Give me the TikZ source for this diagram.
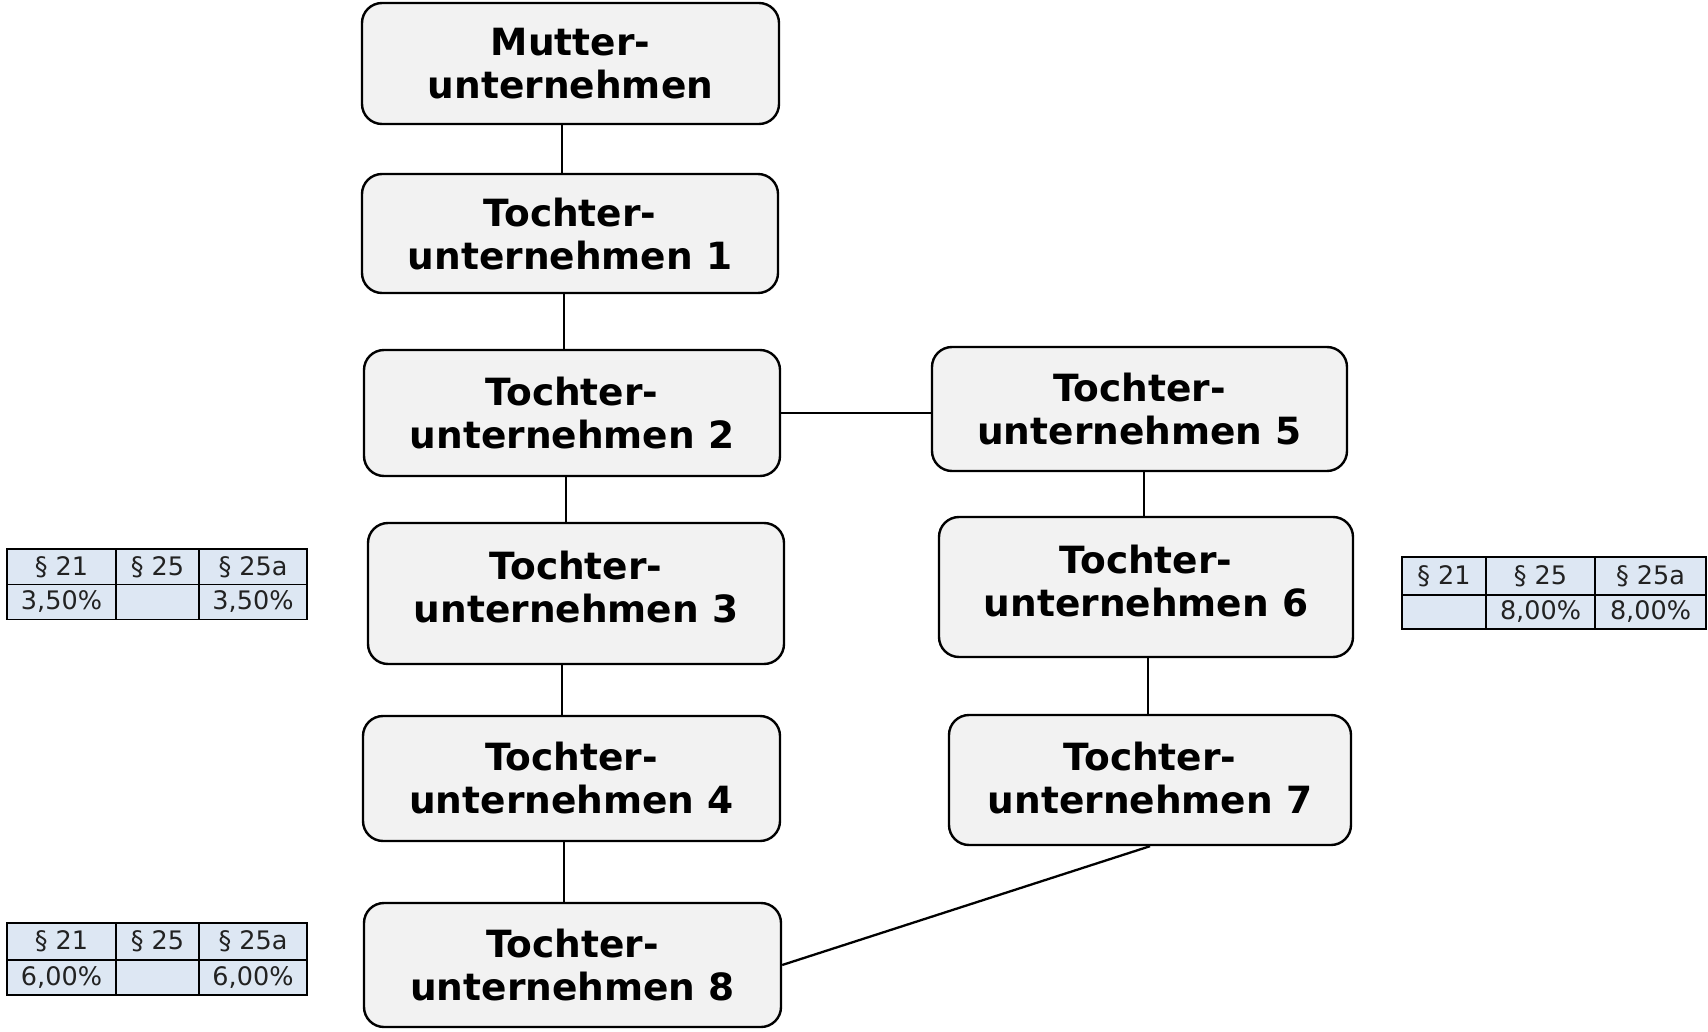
\documentclass[tikz,border=0pt]{standalone}
\usepackage{fontspec}
\setmainfont{DejaVu Sans}
\definecolor{boxgray}{HTML}{F2F2F2}
\definecolor{tblue}{HTML}{DDE7F3}
\definecolor{ttext}{HTML}{222222}
\begin{document}
\begin{tikzpicture}[x=1pt,y=-1pt,
  box/.style={draw=black, line width=2.4pt, fill=boxgray, rounded corners=20pt,
    align=center, inner sep=0pt, font=\fontsize{37.5}{43}\selectfont\bfseries},
  cell/.style={draw=black, line width=1.8pt, fill=tblue, inner sep=0pt,
    text=ttext, font=\fontsize{25.5}{28}\selectfont},
  conn/.style={draw=black, line width=2.3pt}]
\useasboundingbox (0,0) rectangle (1708,1032);

% company boxes
\node[box, minimum width=417pt, minimum height=121pt, text depth=-6pt] (m)  at (570.5,63.5) {Mutter-\\unternehmen};
\node[box, minimum width=416pt, minimum height=119pt, text depth=-4pt] (t1) at (570,233.5) {Tochter-\\unternehmen 1};
\node[box, minimum width=416pt, minimum height=126pt] (t2) at (572,413) {Tochter-\\unternehmen 2};
\node[box, minimum width=416pt, minimum height=141pt, text depth=14pt] (t3) at (576,593.5) {Tochter-\\unternehmen 3};
\node[box, minimum width=417pt, minimum height=125pt] (t4) at (571.5,778.5) {Tochter-\\unternehmen 4};
\node[box, minimum width=417pt, minimum height=124pt] (t8) at (572.5,965) {Tochter-\\unternehmen 8};
\node[box, minimum width=415pt, minimum height=124pt] (t5) at (1139.5,409) {Tochter-\\unternehmen 5};
\node[box, minimum width=414pt, minimum height=140pt, text depth=12pt] (t6) at (1146,587) {Tochter-\\unternehmen 6};
\node[box, minimum width=402pt, minimum height=130pt, text depth=4pt] (t7) at (1150,780) {Tochter-\\unternehmen 7};

% connectors
\draw[conn] ([xshift=-8.5pt]m.south) -- ([xshift=-8pt]t1.north);
\draw[conn] ([xshift=-6pt]t1.south) -- ([xshift=-8pt]t2.north);
\draw[conn] ([xshift=-6pt]t2.south) -- ([xshift=-10pt]t3.north);
\draw[conn] ([xshift=-14pt]t3.south) -- ([xshift=-9.5pt]t4.north);
\draw[conn] ([xshift=-7.5pt]t4.south) -- ([xshift=-8.5pt]t8.north);
\draw[conn] (t2.east) -- ([yshift=-4pt]t5.west);
\draw[conn] ([xshift=4.5pt]t5.south) -- ([xshift=-2pt]t6.north);
\draw[conn] ([xshift=2pt]t6.south) -- ([xshift=-2pt]t7.north);
\draw[conn] (t7.south) -- (t8.east);

% table 1 (left, middle)
\node[cell, minimum width=109pt, minimum height=36pt] (a11) at (61.5,567) {§ 21};
\node[cell, minimum width=83pt,  minimum height=36pt] (a12) at (157.5,567) {§ 25};
\node[cell, minimum width=108pt, minimum height=36pt] (a13) at (253,567) {§ 25a};
\node[cell, minimum width=109pt, minimum height=35pt] (a21) at (61.5,602) {3,50\%};
\node[cell, minimum width=83pt,  minimum height=35pt] (a22) at (157.5,602) {};
\node[cell, minimum width=108pt, minimum height=35pt] (a23) at (253,602) {3,50\%};

% table 2 (right)
\node[cell, minimum width=84pt,  minimum height=38pt] (b11) at (1444,576) {§ 21};
\node[cell, minimum width=109pt, minimum height=38pt] (b12) at (1540.5,576) {§ 25};
\node[cell, minimum width=111pt, minimum height=38pt] (b13) at (1650.5,576) {§ 25a};
\node[cell, minimum width=84pt,  minimum height=34pt] (b21) at (1444,612) {};
\node[cell, minimum width=109pt, minimum height=34pt] (b22) at (1540.5,612) {8,00\%};
\node[cell, minimum width=111pt, minimum height=34pt] (b23) at (1650.5,612) {8,00\%};

% table 3 (left, bottom)
\node[cell, minimum width=109pt, minimum height=37pt] (c11) at (61.5,941.5) {§ 21};
\node[cell, minimum width=83pt,  minimum height=37pt] (c12) at (157.5,941.5) {§ 25};
\node[cell, minimum width=108pt, minimum height=37pt] (c13) at (253,941.5) {§ 25a};
\node[cell, minimum width=109pt, minimum height=35pt] (c21) at (61.5,977.5) {6,00\%};
\node[cell, minimum width=83pt,  minimum height=35pt] (c22) at (157.5,977.5) {};
\node[cell, minimum width=108pt, minimum height=35pt] (c23) at (253,977.5) {6,00\%};
\end{tikzpicture}
\end{document}
